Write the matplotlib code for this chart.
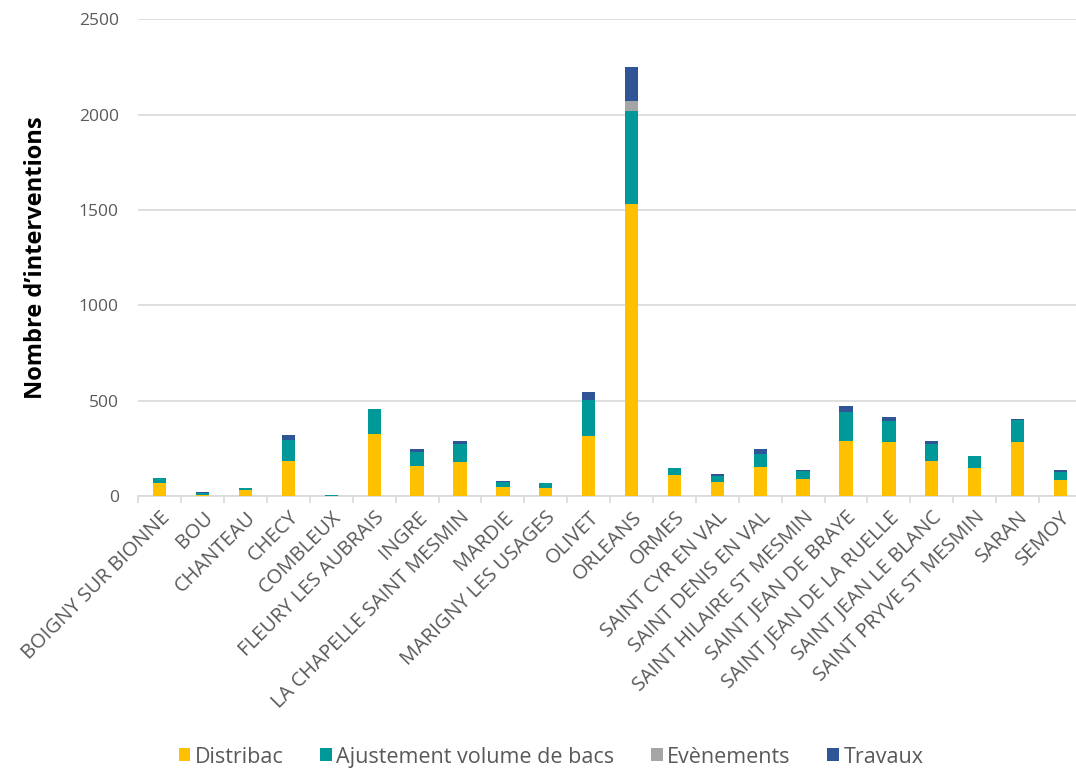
import matplotlib.pyplot as plt
import numpy as np

plt.rcParams['font.family'] = ['Open Sans', 'DejaVu Sans']

communes = ['BOIGNY SUR BIONNE', 'BOU', 'CHANTEAU', 'CHECY', 'COMBLEUX',
            'FLEURY LES AUBRAIS', 'INGRE', 'LA CHAPELLE SAINT MESMIN', 'MARDIE',
            'MARIGNY LES USAGES', 'OLIVET', 'ORLEANS', 'ORMES', 'SAINT CYR EN VAL',
            'SAINT DENIS EN VAL', 'SAINT HILAIRE ST MESMIN', 'SAINT JEAN DE BRAYE',
            'SAINT JEAN DE LA RUELLE', 'SAINT JEAN LE BLANC', 'SAINT PRYVE ST MESMIN',
            'SARAN', 'SEMOY']

distribac = [72, 9, 33, 183, 2, 327, 157, 177, 47, 42, 316, 1532, 110, 75,
             155, 89, 290, 287, 183, 147, 285, 87]
ajustement = [26, 9, 10, 111, 6, 131, 75, 96, 28, 29, 191, 490, 38, 33,
              65, 42, 150, 110, 93, 63, 115, 42]
evenements = [0, 0, 0, 0, 0, 0, 0, 0, 0, 0, 0, 51, 0, 0,
              0, 0, 0, 0, 0, 0, 0, 0]
travaux = [0, 5, 0, 27, 0, 0, 17, 15, 5, 0, 38, 179, 0, 11,
           28, 5, 35, 21, 12, 0, 4, 7]

series = [('Distribac', distribac, '#ffc000'),
          ('Ajustement volume de bacs', ajustement, '#00999a'),
          ('Evènements', evenements, '#a5a5a5'),
          ('Travaux', travaux, '#2f5597')]

fig = plt.figure(figsize=(10.76, 7.73), dpi=100)
ax = fig.add_axes([0.1285, 0.358, 0.877, 0.617])

x = np.arange(len(communes))
bas = np.zeros(len(communes))
for nom, vals, couleur in series:
    vals = np.array(vals, dtype=float)
    ax.bar(x, vals, 0.31, bottom=bas, color=couleur, label=nom, zorder=3)
    bas += vals

ax.set_xlim(-0.5, len(communes) - 0.5)
ax.set_ylim(0, 2500)
ax.set_yticks([0, 500, 1000, 1500, 2000, 2500])
ax.grid(axis='y', color='#d9d9d9', linewidth=1.2, zorder=0)

for s in ['top', 'right', 'left']:
    ax.spines[s].set_visible(False)
ax.spines['bottom'].set_color('#d9d9d9')
ax.spines['bottom'].set_linewidth(1.2)

ax.set_xticks(x)
ax.set_xticklabels(communes, rotation=45, ha='right', rotation_mode='anchor',
                   fontsize=14.5, color='#595959')
ax.tick_params(axis='x', length=0, pad=8)
ax.set_xticks(np.arange(len(communes) + 1) - 0.5, minor=True)
ax.tick_params(axis='x', which='minor', length=5, color='#d9d9d9', width=1.2)
ax.tick_params(axis='y', length=0, pad=14, labelsize=12.5, labelcolor='#595959')

ax.set_ylabel("Nombre d’interventions", fontsize=17, fontweight='bold',
              color='black', labelpad=22)

fig.legend(loc='lower center', bbox_to_anchor=(0.512, -0.018), ncol=4,
           frameon=False, fontsize=15.5, handlelength=0.55, handleheight=0.55,
           handletextpad=0.2, columnspacing=1.7, labelcolor='#595959')

fig.savefig('out.png', dpi=100)
